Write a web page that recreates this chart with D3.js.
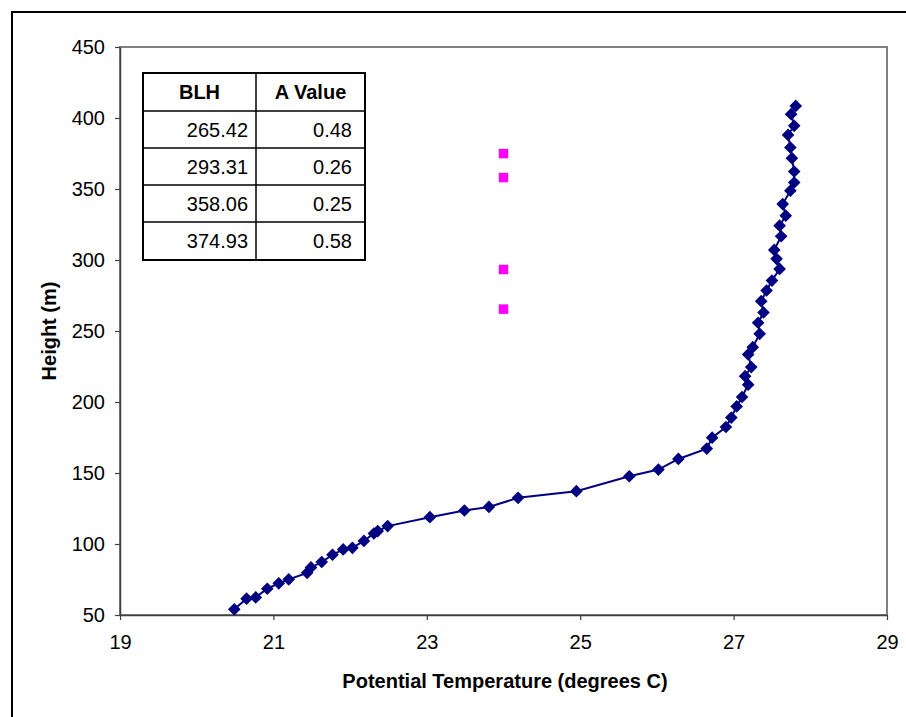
<!DOCTYPE html>
<html>
<head>
<meta charset="utf-8">
<script src="https://cdn.jsdelivr.net/npm/d3@7"></script>
<style>
  body { margin: 0; background: #fff; }
  text { font-family: "Liberation Sans", Arial, sans-serif; }
</style>
</head>
<body>
<div id="container"></div>
<script>
const temperature = [
  20.49, 20.65, 20.77, 20.92, 21.07, 21.2, 21.44, 21.49, 21.63, 21.77,
  21.91, 22.03, 22.18, 22.31, 22.36, 22.49, 23.04, 23.49, 23.81, 24.19,
  24.95, 25.64, 26.02, 26.28, 26.65, 26.72, 26.9, 26.97, 27.04, 27.11,
  27.19, 27.15, 27.23, 27.19, 27.25, 27.34, 27.32, 27.39, 27.36, 27.43,
  27.5, 27.6, 27.56, 27.53, 27.62, 27.6, 27.68, 27.64, 27.74, 27.79,
  27.79, 27.76, 27.74, 27.71, 27.79, 27.75, 27.81
];
const height = [
  54.0, 61.5, 62.4, 68.5, 72.3, 75.1, 79.7, 83.5, 87.3, 92.4,
  96.2, 97.3, 102.2, 107.4, 109.1, 112.6, 118.9, 123.6, 126.1, 132.5,
  137.2, 147.7, 152.4, 159.9, 167.2, 174.9, 182.4, 189.0, 196.9, 203.5,
  212.2, 218.2, 224.6, 233.5, 238.6, 248.0, 255.8, 263.0, 271.0, 278.5,
  285.5, 293.7, 300.8, 307.1, 316.7, 324.2, 331.2, 339.4, 348.8, 354.6,
  362.3, 371.7, 379.2, 388.1, 394.5, 402.7, 408.5
];
const blh = [265.42, 293.31, 358.06, 374.93];
const aValue = [0.48, 0.26, 0.25, 0.58];
const blhTemperature = 24;
const xTicks = [19, 21, 23, 25, 27, 29];
const yTicks = [50, 100, 150, 200, 250, 300, 350, 400, 450];

main();

function main() {
  const width = 906;
  const height_ = 717;
  const plot = { left: 120, right: 887, top: 47, bottom: 615 };
  const fontSize = 20;

  const svg = d3
    .select("#container")
    .append("svg")
    .attr("width", width)
    .attr("height", height_);

  // outer chart border (runs off right and bottom edges)
  svg
    .append("rect")
    .attr("x", 12)
    .attr("y", 12)
    .attr("width", 1000)
    .attr("height", 1000)
    .attr("fill", "none")
    .attr("stroke", "#000")
    .attr("stroke-width", 2);

  const scaleX = d3.scaleLinear().domain([19, 29]).range([plot.left, plot.right]);
  const scaleY = d3.scaleLinear().domain([50, 450]).range([plot.bottom, plot.top]);

  // plot area frame
  svg
    .append("rect")
    .attr("x", plot.left)
    .attr("y", plot.top)
    .attr("width", plot.right - plot.left)
    .attr("height", plot.bottom - plot.top)
    .attr("fill", "none")
    .attr("stroke", "#808080")
    .attr("stroke-width", 2);

  const axisX = svg
    .append("g")
    .attr("transform", `translate(0, ${plot.bottom})`)
    .call(d3.axisBottom(scaleX).tickValues(xTicks).tickSize(5).tickSizeOuter(0).tickPadding(15));
  const axisY = svg
    .append("g")
    .attr("transform", `translate(${plot.left}, 0)`)
    .call(d3.axisLeft(scaleY).tickValues(yTicks).tickSize(5).tickSizeOuter(0).tickPadding(10));

  [axisX, axisY].forEach((g) => {
    g.select(".domain").attr("stroke", "#404040").attr("stroke-width", 1.5);
    g.selectAll(".tick line").attr("stroke", "#404040").attr("stroke-width", 1.2);
    g.selectAll(".tick text")
      .attr("font-size", fontSize)
      .attr("fill", "#000")
      .attr("font-family", "Liberation Sans, Arial, sans-serif");
  });

  svg
    .append("text")
    .text("Potential Temperature (degrees C)")
    .attr("x", 505)
    .attr("y", 688)
    .attr("text-anchor", "middle")
    .attr("font-size", fontSize)
    .attr("font-weight", 700);
  svg
    .append("text")
    .text("Height (m)")
    .attr("transform", `translate(56, ${(plot.top + plot.bottom) / 2}) rotate(-90)`)
    .attr("text-anchor", "middle")
    .attr("font-size", fontSize)
    .attr("font-weight", 700);

  const points = temperature.map((t, i) => ({ t: t, h: height[i] }));

  const line = d3
    .line()
    .x((d) => scaleX(d.t))
    .y((d) => scaleY(d.h));

  svg
    .append("path")
    .datum(points)
    .attr("fill", "none")
    .attr("stroke", "#000080")
    .attr("stroke-width", 2)
    .attr("d", line);

  const diamond = d3.symbol().type(d3.symbolSquare).size(80);
  svg
    .append("g")
    .selectAll("path")
    .data(points)
    .join("path")
    .attr("d", diamond)
    .attr("fill", "#000080")
    .attr("transform", (d) => `translate(${scaleX(d.t)}, ${scaleY(d.h)}) rotate(45)`);

  const square = d3.symbol().type(d3.symbolSquare).size(90);
  svg
    .append("g")
    .selectAll("path")
    .data(blh)
    .join("path")
    .attr("d", square)
    .attr("fill", "#FF00FF")
    .attr("transform", (d) => `translate(${scaleX(blhTemperature)}, ${scaleY(d)})`);

  renderTable(svg, fontSize);
}

function renderTable(svg, fontSize) {
  const left = 143;
  const mid = 256;
  const right = 365;
  const rowY = [73, 111, 148, 185, 222, 260];

  const g = svg.append("g").classed("table", true);
  g.append("rect")
    .attr("x", left)
    .attr("y", rowY[0])
    .attr("width", right - left)
    .attr("height", rowY[rowY.length - 1] - rowY[0])
    .attr("fill", "#fff")
    .attr("stroke", "#000")
    .attr("stroke-width", 2);
  g.selectAll("line.row")
    .data(rowY.slice(1, -1))
    .join("line")
    .classed("row", true)
    .attr("x1", left)
    .attr("x2", right)
    .attr("y1", (d) => d)
    .attr("y2", (d) => d)
    .attr("stroke", "#000")
    .attr("stroke-width", 1.5);
  g.append("line")
    .attr("x1", mid)
    .attr("x2", mid)
    .attr("y1", rowY[0])
    .attr("y2", rowY[rowY.length - 1])
    .attr("stroke", "#000")
    .attr("stroke-width", 1.5);

  const headers = ["BLH", "A Value"];
  const centers = [(left + mid) / 2, (mid + right) / 2];
  g.selectAll("text.head")
    .data(headers)
    .join("text")
    .classed("head", true)
    .text((d) => d)
    .attr("x", (d, i) => centers[i])
    .attr("y", (rowY[0] + rowY[1]) / 2 + 7)
    .attr("text-anchor", "middle")
    .attr("font-size", fontSize)
    .attr("font-weight", 700);

  blh.forEach((v, i) => {
    const y = (rowY[i + 1] + rowY[i + 2]) / 2 + 7;
    g.append("text")
      .text(v.toFixed(2))
      .attr("x", mid - 8)
      .attr("y", y)
      .attr("text-anchor", "end")
      .attr("font-size", fontSize);
    g.append("text")
      .text(aValue[i].toFixed(2))
      .attr("x", right - 13)
      .attr("y", y)
      .attr("text-anchor", "end")
      .attr("font-size", fontSize);
  });
}
</script>
</body>
</html>
